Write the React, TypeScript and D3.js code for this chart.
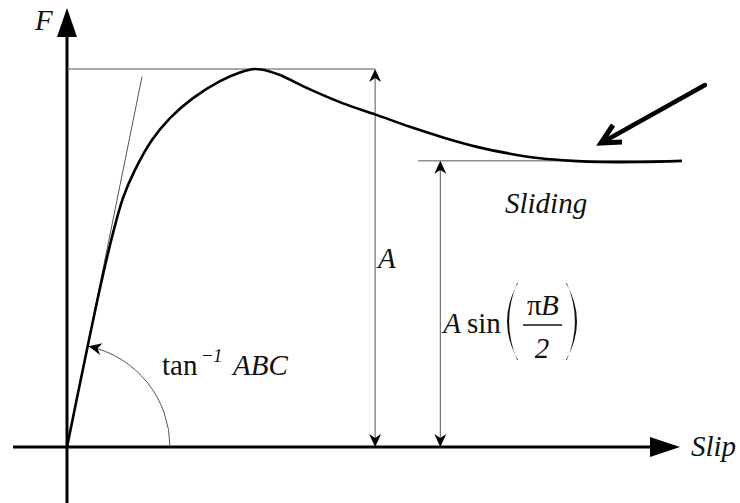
import React from 'react';
import * as d3 from 'd3';

// curve: slip (0..10) vs force (peak = 1)
const slip = [0, 0.163, 0.325, 0.488, 0.618, 0.748, 0.911, 1.106, 1.382, 1.675, 2.049, 2.488, 2.813, 3.057, 3.268, 3.463, 3.951, 4.488, 5.008, 5.577, 6.114, 6.667, 7.203, 7.691, 8.228, 8.667, 9.317, 10];
const force = [0, 0.13, 0.258, 0.384, 0.479, 0.566, 0.659, 0.733, 0.812, 0.87, 0.923, 0.968, 0.991, 1, 0.995, 0.984, 0.946, 0.909, 0.88, 0.847, 0.819, 0.794, 0.776, 0.764, 0.757, 0.754, 0.754, 0.757];

const peakForce = 1;
const slidingForce = 0.757;
const peakDimSlip = 5.01;
const slidingDimSlip = 6.07;
const slidingLineFrom = 5.71;
const tangentEnd = [1.22, 0.98];

const W = 740;
const H = 503;
const FONT = 'Liberation Serif';
const THIN = '#555';

function arrowHead(tx: number, ty: number, angle: number, len: number, wid: number) {
  var dx = Math.cos(angle), dy = Math.sin(angle);
  var px = -dy, py = dx;
  var bx = tx - dx * len, by = ty - dy * len;
  var nx = tx - dx * len * 0.7, ny = ty - dy * len * 0.7;
  return `M${tx},${ty}L${bx + px * wid / 2},${by + py * wid / 2}L${nx},${ny}L${bx - px * wid / 2},${by - py * wid / 2}Z`;
}

function Label(props: { x: number, y: number, italic?: boolean, size?: number, anchor?: string, children: React.ReactNode }) {
  return (
    <text x={props.x} y={props.y} fontFamily={FONT} fontSize={props.size || 29}
      fontStyle={props.italic ? 'italic' : 'normal'} textAnchor={props.anchor || 'start'} fill="#111">
      {props.children}
    </text>
  );
}

export default function App() {
  var x = d3.scaleLinear().domain([0, 10]).range([67, 682]);
  var y = d3.scaleLinear().domain([0, 1]).range([447, 69]);

  var pts: [number, number][] = slip.map((s, i) => [s, force[i]]);
  var line = d3.line<[number, number]>()
    .x(d => x(d[0]))
    .y(d => y(d[1]))
    .curve(d3.curveCatmullRom.alpha(0.5));

  var ox = x(0), oy = y(0);
  var tx = x(tangentEnd[0]), ty = y(tangentEnd[1]);
  var tanAngle = Math.atan2(oy - ty, tx - ox);
  var r = 103;
  var arcPath = d3.path();
  arcPath.arc(ox, oy, r, 0, -tanAngle + 0.012, true);
  var endPhi = tanAngle - 0.012;
  var ax = ox + r * Math.cos(endPhi), ay = oy - r * Math.sin(endPhi);
  var arcDir = Math.atan2(-Math.cos(endPhi), -Math.sin(endPhi));

  var xAxisStart = x.invert(13);
  var xAxisTip = x.invert(680);
  var yAxisBottom = y.invert(503);
  var yAxisTip = y.invert(8);

  // tall brackets round the fraction
  var lp = (x0: number, y0: number, y1: number, bulge: number) =>
    `M${x0},${y0}Q${x0 - bulge},${(y0 + y1) / 2} ${x0},${y1}L${x0 - 0.8},${y1}Q${x0 - bulge + 5},${(y0 + y1) / 2} ${x0 - 0.8},${y0}Z`;
  var rp = (x0: number, y0: number, y1: number, bulge: number) =>
    `M${x0},${y0}Q${x0 + bulge},${(y0 + y1) / 2} ${x0},${y1}L${x0 + 0.8},${y1}Q${x0 + bulge - 5},${(y0 + y1) / 2} ${x0 + 0.8},${y0}Z`;

  return (
    <svg width={W} height={H} style={{ position: 'absolute', left: 0, top: 0, background: '#fff' }}>
      {/* axes */}
      <line x1={x(xAxisStart)} y1={oy} x2={x(xAxisTip) - 20} y2={oy} stroke="#000" strokeWidth={3} />
      <path d={`M${x(xAxisTip)},${oy}L${x(xAxisTip) - 30},${oy - 10}L${x(xAxisTip) - 30},${oy + 10}Z`} fill="#000" />
      <line x1={ox} y1={y(yAxisBottom)} x2={ox} y2={y(yAxisTip) + 20} stroke="#000" strokeWidth={3} />
      <path d={`M${ox},${y(yAxisTip)}L${ox - 10},${y(yAxisTip) + 29}L${ox + 10},${y(yAxisTip) + 29}Z`} fill="#000" />

      {/* reference lines */}
      <line x1={ox} y1={y(peakForce)} x2={x(peakDimSlip)} y2={y(peakForce)} stroke={THIN} strokeWidth={1} />
      <line x1={x(slidingLineFrom)} y1={y(slidingForce)} x2={x(10)} y2={y(slidingForce)} stroke={THIN} strokeWidth={1} />
      <line x1={ox} y1={oy} x2={tx} y2={ty} stroke={THIN} strokeWidth={1} />

      {/* dimension arrows */}
      <line x1={x(peakDimSlip)} y1={y(peakForce) + 4} x2={x(peakDimSlip)} y2={oy - 4} stroke={THIN} strokeWidth={1} />
      <path d={arrowHead(x(peakDimSlip), y(peakForce), -Math.PI / 2, 13, 12)} fill="#000" />
      <path d={arrowHead(x(peakDimSlip), oy, Math.PI / 2, 13, 12)} fill="#000" />
      <line x1={x(slidingDimSlip)} y1={y(slidingForce) + 4} x2={x(slidingDimSlip)} y2={oy - 4} stroke={THIN} strokeWidth={1} />
      <path d={arrowHead(x(slidingDimSlip), y(slidingForce), -Math.PI / 2, 13, 12)} fill="#000" />
      <path d={arrowHead(x(slidingDimSlip), oy, Math.PI / 2, 13, 12)} fill="#000" />

      {/* slope angle */}
      <path d={arcPath.toString()} fill="none" stroke={THIN} strokeWidth={1} />
      <path d={arrowHead(ax, ay, arcDir, 13, 12)} fill="#000" />

      {/* curve */}
      <path d={line(pts) || ''} fill="none" stroke="#000" strokeWidth={2.6} strokeLinejoin="round" />

      {/* pointer arrow */}
      <line x1={705} y1={85} x2={603} y2={142} stroke="#000" strokeWidth={4.5} strokeLinecap="round" />
      <polyline points="613,125 601,143 622,142" fill="none" stroke="#000" strokeWidth={5} strokeLinejoin="miter" />

      {/* labels */}
      <Label x={35} y={30} italic>F</Label>
      <Label x={691} y={456} italic>Slip</Label>
      <Label x={505} y={213} italic>Sliding</Label>
      <Label x={x(peakDimSlip) + 3} y={268} italic>A</Label>
      <Label x={162} y={375}>tan</Label>
      <Label x={202} y={362} size={19}>−</Label>
      <Label x={213} y={362} size={19} italic>1</Label>
      <Label x={233} y={375} italic>ABC</Label>
      <Label x={x(slidingDimSlip) + 3} y={333} italic>A</Label>
      <Label x={467} y={333}>sin</Label>
      <Label x={527} y={315}>π</Label>
      <Label x={541} y={315} italic>B</Label>
      <Label x={542} y={358} italic anchor="middle">2</Label>
      <path d={lp(518, 283, 360, 22)} fill="#111" />
      <path d={rp(566, 283, 360, 22)} fill="#111" />
      <line x1={523} y1={325} x2={562} y2={325} stroke="#111" strokeWidth={1.5} />
    </svg>
  );
}
